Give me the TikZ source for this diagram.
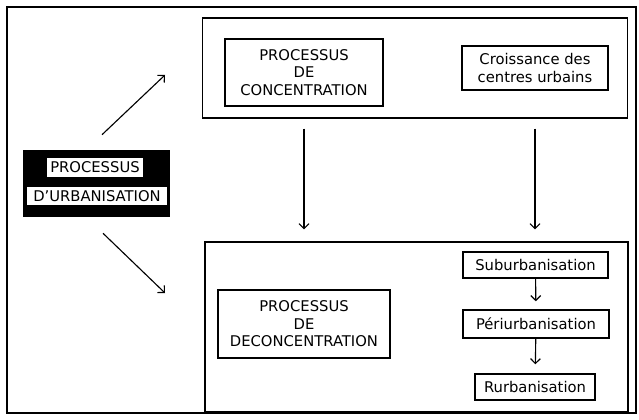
\documentclass[tikz,border=0pt]{standalone}
\usepackage{fontspec}
\setsansfont{DejaVu Sans}
\usepackage{tikz}
\usetikzlibrary{positioning,arrows.meta}
\def\pix{0.025cm}

\begin{document}
\begin{tikzpicture}[x=0.025cm, y=-0.025cm, font=\sffamily\fontsize{10.5}{12.5}\selectfont,
		panel/.style={draw, line width=0.9pt, inner sep=0pt},
		procbox/.style={draw, line width=1.8pt, align=center, inner sep=0pt},
		smallbox/.style={draw, line width=1pt, align=center, inner sep=0pt},
		whitelabel/.style={fill=white, inner sep=0pt, minimum height=18*\pix},
		flow/.style={-{Straight Barb[length=3.5pt,width=7pt]}, line width=0.8pt}]
				\useasboundingbox (0,0) rectangle (639,420);
				\draw[line width=1pt] (7,7) rectangle (636,413);

				% urbanisation
				\node[fill=black, minimum width={147*\pix}, minimum height={67*\pix}] (urban) at (96.5,183.5) {};
				\node[whitelabel, minimum width={96*\pix}] (urbanA) at (95,167.5) {PROCESSUS};
				\node[whitelabel, minimum width={140*\pix}] (urbanB) at (97,196) {D'URBANISATION};

				% top panel
				\node[panel, minimum width={425*\pix}, minimum height={100*\pix}] (top) at (415,68) {};
				\node[procbox, minimum width={158*\pix}, minimum height={67*\pix}] (conc) at (304,72.5) {PROCESSUS\\DE\\CONCENTRATION};
				\node[smallbox, minimum width={146*\pix}, minimum height={44*\pix}] (crois) at (535,68) {Croissance des\\centres urbains};

				% bottom panel
				\node[panel, minimum width={423*\pix}, minimum height={170*\pix}] (bottom) at (416.5,327) {};
				\node[procbox, minimum width={172*\pix}, minimum height={68*\pix}] (deconc) at (304,324) {PROCESSUS\\DE\\DECONCENTRATION};
				\node[smallbox, minimum width={145*\pix}, minimum height={26*\pix}] (sub) at (535.5,265) {Suburbanisation};
				\node[smallbox, minimum width={146*\pix}, minimum height={28*\pix}] (peri) at (536,324) {Périurbanisation};
				\node[smallbox, minimum width={120*\pix}, minimum height={26*\pix}] (rurb) at (535,387) {Rurbanisation};

				\coordinate (upend) at (165,75);
				\coordinate (downend) at (165,293);
				\draw[flow] ([shift={(5.5,-15)}]urban.north) -- (upend);
				\draw[flow] ([shift={(6.5,16)}]urban.south) -- (downend);

				\draw[flow, shorten <=10*\pix, shorten >=12*\pix] (top.south -| conc.south) -- (bottom.north -| conc.south);
				\draw[flow, shorten <=10*\pix, shorten >=12*\pix] (top.south -| crois.south) -- (bottom.north -| crois.south);

				\draw[flow, shorten >=8*\pix] (sub) -- (peri);
				\draw[flow, shorten >=9*\pix] (peri) -- (rurb);

			\end{tikzpicture}
\end{document}
